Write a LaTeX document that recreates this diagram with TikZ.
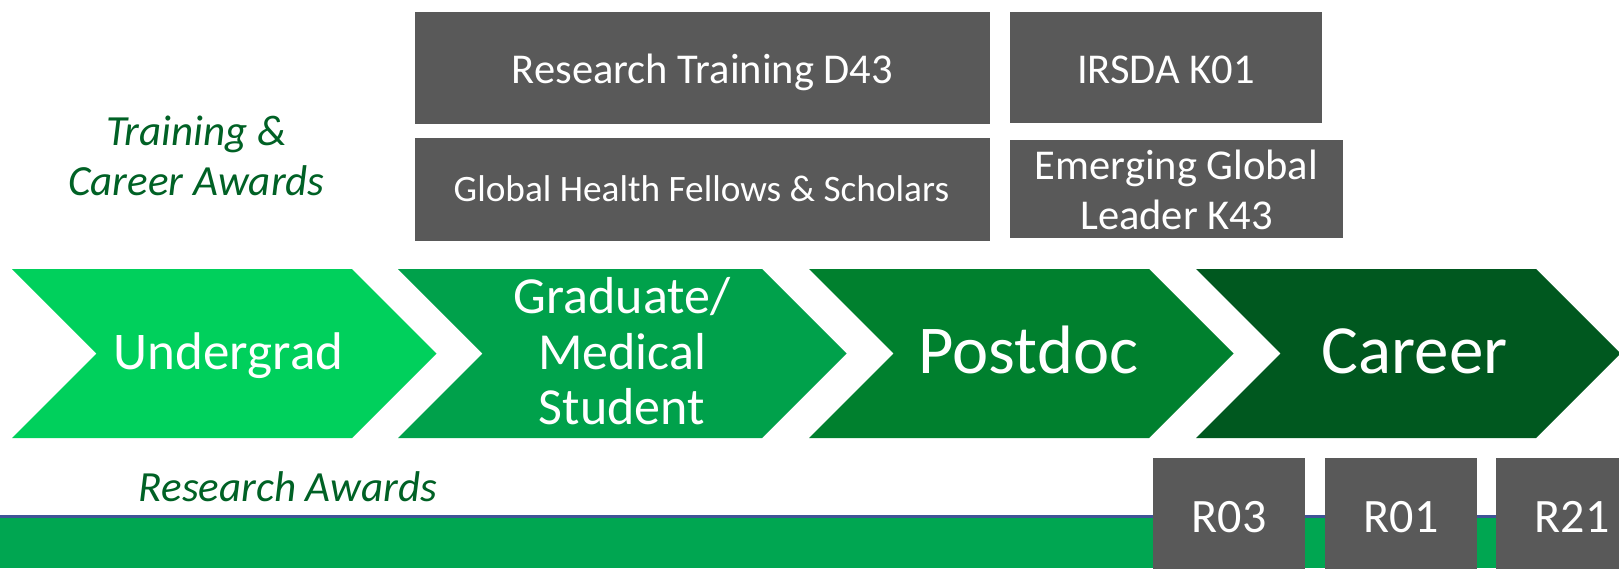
\documentclass[tikz,border=0pt]{standalone}
\usepackage{fontspec}
\setmainfont{Carlito}
\definecolor{gA}{RGB}{0,208,92}
\definecolor{gB}{RGB}{0,161,75}
\definecolor{gC}{RGB}{0,128,46}
\definecolor{gD}{RGB}{0,88,31}
\definecolor{strip}{RGB}{0,166,81}
\definecolor{bline}{RGB}{63,84,150}
\definecolor{boxgray}{RGB}{89,89,89}
\definecolor{lblgreen}{RGB}{0,97,37}
\newcommand{\fsz}[1]{\fontsize{#1}{#1}\selectfont}
\begin{document}
\begin{tikzpicture}[x=1pt,y=-1pt,
  graybox/.style={fill=boxgray,draw=none,inner sep=0pt,outer sep=0pt},
  wtext/.style={text=white,inner sep=0pt,anchor=base},
  btext/.style={text=white,inner sep=0pt,anchor=base,font=\fsz{42.5}},
  gtext/.style={text=lblgreen,inner sep=0pt,anchor=base,font=\itshape\fsz{43}}]
\useasboundingbox (0,0) rectangle (1619,568);
\clip (0,0) rectangle (1619,568);
\fill[white] (0,0) rectangle (1619,568);
% bottom strip
\fill[strip] (0,517) rectangle (1619,568);
\fill[bline] (0,515) rectangle (1619,517.5);
% chevrons
\fill[gA] (12,269) -- (352,269) -- (436.5,353.5) -- (352,438) -- (12,438) -- (96.5,353.5) -- cycle;
\fill[gB] (398,269) -- (762,269) -- (846.5,353.5) -- (762,438) -- (398,438) -- (482.5,353.5) -- cycle;
\fill[gC] (809,269) -- (1149,269) -- (1233.5,353.5) -- (1149,438) -- (809,438) -- (893.5,353.5) -- cycle;
\fill[gD] (1196,269) -- (1536,269) -- (1620.5,353.5) -- (1536,438) -- (1196,438) -- (1280.5,353.5) -- cycle;
\node[wtext,font=\fsz{53}] (ug) at (228.5,369) {Undergrad};
\node[wtext,font=\fsz{52}] (gr1) at (622,313) {Graduate/};
\node[wtext,font=\fsz{52}] (gr2) at (622,369) {Medical};
\node[wtext,font=\fsz{52}] (gr3) at (622,424) {Student};
\node[wtext,font=\fsz{68.5}] (pd) at (1028.5,373) {Postdoc};
\node[wtext,font=\fsz{69}] (ca) at (1414.5,373) {Career};
% gray boxes top
\node[graybox,minimum width=575,minimum height=112] (rtd) at (702.5,68) {};
\node[graybox,minimum width=575,minimum height=103] (ghf) at (702.5,189.5) {};
\node[graybox,minimum width=312,minimum height=111] (irs) at (1166,67.5) {};
\node[graybox,minimum width=333,minimum height=98] (egl) at (1176.5,189) {};
\node[btext] (rtdT) at (702.5,83) {Research Training D43};
\node[btext,font=\fsz{37.3}] (ghfT) at (701.5,201) {Global Health Fellows \& Scholars};
\node[btext] (irsT) at (1166,83) {IRSDA K01};
\node[btext] (egl1) at (1176.5,179) {Emerging Global};
\node[btext] (egl2) at (1176.5,229) {Leader K43};
% R boxes
\node[graybox,minimum width=152,minimum height=120,anchor=north] (r03) at (1229,458) {};
\node[graybox,minimum width=152,minimum height=120,anchor=north] (r01) at (1401,458) {};
\node[graybox,minimum width=152,minimum height=120,anchor=north] (r21) at (1572,458) {};
\node[wtext,font=\fsz{48}] (r03T) at (1229,532) {R03};
\node[wtext,font=\fsz{48}] (r01T) at (1401,532) {R01};
\node[wtext,font=\fsz{48}] (r21T) at (1572,532) {R21};
% labels
\node[gtext] (tc1) at (196.5,145) {Training \&};
\node[gtext] (tc2) at (196.5,195) {Career Awards};
\node[gtext] (ra) at (288,501) {Research Awards};
\end{tikzpicture}
\end{document}
